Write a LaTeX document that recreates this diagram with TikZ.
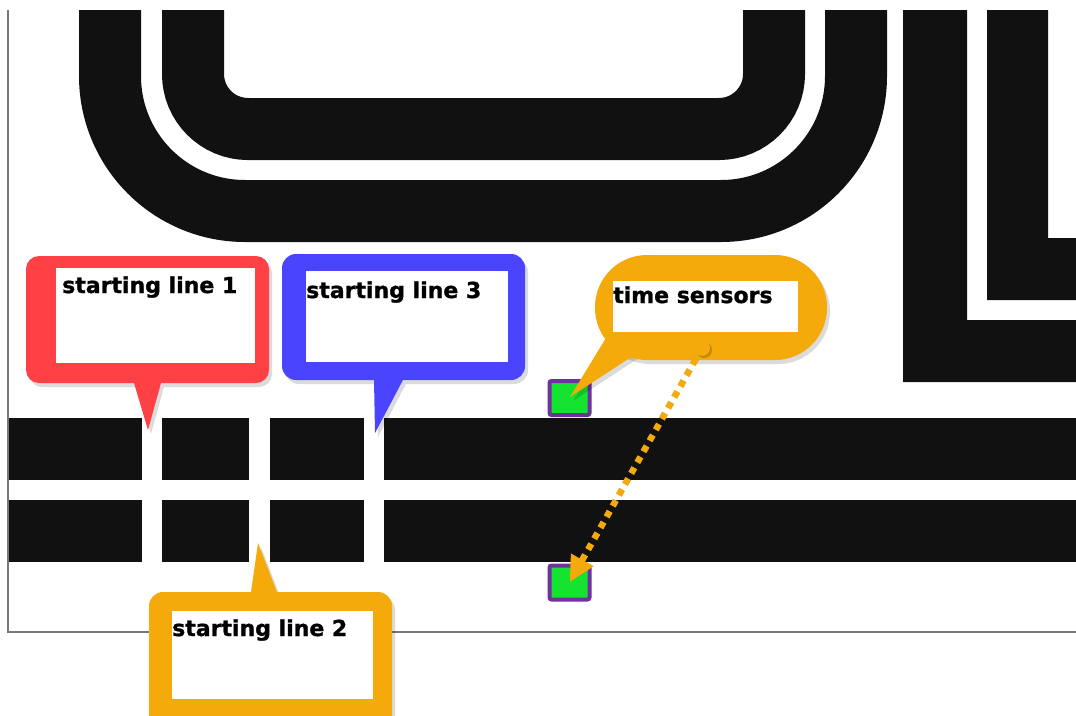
\documentclass[tikz,border=0pt]{standalone}
\usepackage{fontspec}
\setmainfont{DejaVu Sans}
\newfontfamily\lblfont{DejaVu Sans Bold}[FakeBold=1.2]
\usetikzlibrary{arrows.meta}
\definecolor{trackc}{HTML}{111111}
\definecolor{cred}{RGB}{255,64,68}
\definecolor{cblue}{RGB}{74,68,255}
\definecolor{corange}{RGB}{245,170,12}
\definecolor{sgreen}{RGB}{20,228,48}
\definecolor{spurple}{RGB}{112,48,160}
\definecolor{borderc}{RGB}{120,120,120}
\tikzset{
  shadowfill/.style={fill=black, opacity=0.14},
  lbl/.style={anchor=base west, inner sep=0pt, font=\lblfont\fontsize{22}{24}\selectfont, text=black},
  wbox/.style={fill=white, inner sep=0pt, anchor=north west},
  sensor/.style={draw=spurple, fill=sgreen, line width=4pt, minimum width=40pt, minimum height=34pt, inner sep=0pt, rounded corners=2pt},
  arrowline/.style={line width=6.5pt, dash pattern=on 6.5pt off 6pt, -{Triangle[length=26pt,width=24pt]}},
}
\newcommand\redcallout[1]{\fill[#1] [rounded corners=13pt] (26,320) -- (26,256) -- (269,256) -- (269,383) [sharp corners] -- (161,383) -- (148,430) -- (134,383) [rounded corners=13pt] -- (26,383) -- cycle;}
\newcommand\bluecallout[1]{\fill[#1] [rounded corners=14pt] (282,320) -- (282,254) -- (525,254) -- (525,380) [sharp corners] -- (403,380) -- (375,433) -- (374,380) [rounded corners=14pt] -- (282,380) -- cycle;}
\newcommand\orangecallout[1]{\fill[#1] [rounded corners=14pt] (149,680) -- (149,592) [sharp corners] -- (251,592) -- (258,543) -- (277,592) [rounded corners=14pt] -- (392,592) -- (392,745) -- (149,745) -- cycle;}
\newcommand\timecallout[1]{\fill[#1] [rounded corners=52pt] (595,255) rectangle (827,360); \fill[#1] (609.6,332) -- (570,397) -- (642,350) -- cycle;}
\begin{document}
\begin{tikzpicture}[x=1pt,y=-1pt]
\useasboundingbox (0,0) rectangle (1076,715);
\clip (0,0) rectangle (1076,715);
\fill[white] (0,0) rectangle (1076,715);
% upper tracks
\begin{scope}
\clip (0,10) rectangle (1076,715);
\draw[trackc, line width=62pt, rounded corners=55pt] (193,0) -- (193,129) -- (774,129) -- (774,0);
\draw[trackc, line width=62pt, rounded corners=135pt] (110,0) -- (110,211) -- (856,211) -- (856,0);
\fill[trackc] (903,10) -- (967,10) -- (967,320) -- (1080,320) -- (1080,382) -- (903,382) -- cycle;
\fill[trackc] (987,10) -- (1048,10) -- (1048,238) -- (1080,238) -- (1080,300) -- (987,300) -- cycle;
\end{scope}
% straight track with starting lines
\foreach \a/\b in {8/142,162/249,270/364,384/1080} {
  \fill[trackc] (\a,418) rectangle (\b,480);
  \fill[trackc] (\a,500) rectangle (\b,562);
}
% frame
\draw[borderc, line width=2pt] (8,10) -- (8,632) -- (1080,632);
% sensors
\node[sensor] (sA) at (569.5,398) {};
\node[sensor] (sB) at (569.5,582.5) {};
% callout shadows
\begin{scope}[shift={(3,4)}]
\redcallout{shadowfill}
\bluecallout{shadowfill}
\orangecallout{shadowfill}
\timecallout{shadowfill}
\end{scope}
% callouts
\redcallout{cred}
\bluecallout{cblue}
\orangecallout{corange}
\timecallout{corange}
% text boxes
\node[wbox, minimum width=199pt, minimum height=95pt] (b1) at (56,268) {};
\node[lbl] (t1) at (62,293) {starting line 1};
\node[wbox, minimum width=202pt, minimum height=91pt] (b3) at (306,271) {};
\node[lbl] (t3) at (306,298) {starting line 3};
\node[wbox, minimum width=185pt, minimum height=51pt] (bt) at (613,281) {};
\node[lbl] (tt) at (613,303) {time sensors};
\node[wbox, minimum width=201pt, minimum height=88pt] (b2) at (172,611) {};
\node[lbl] (t2) at (172,636) {starting line 2};
% dotted arrow
\coordinate (dotc) at (702,348);
\begin{scope}[shift={(2,3)}]
\draw[black, opacity=0.18, arrowline] (dotc) -- (sB.center);
\end{scope}
\draw[corange, arrowline] (dotc) -- (sB.center);
\fill[black, opacity=0.2] ([shift={(2,2)}]dotc) circle (8pt);
\node[circle, fill=corange, minimum size=16pt, inner sep=0pt] (dot) at (dotc) {};
\end{tikzpicture}
\end{document}
